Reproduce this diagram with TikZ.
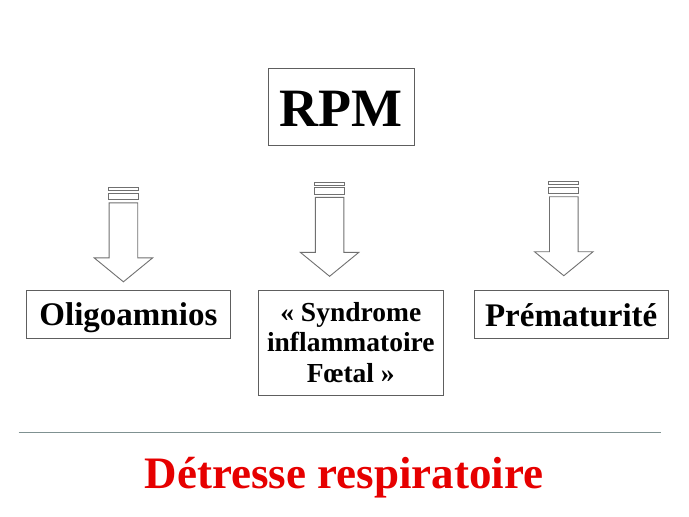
\documentclass[tikz,border=0pt]{standalone}
\usepackage{fontspec}
\setmainfont{Liberation Serif}
\definecolor{boxgray}{HTML}{5E5E5E}
\definecolor{arrgray}{HTML}{707070}
\definecolor{rulegray}{HTML}{7F9191}
\definecolor{alertred}{HTML}{E60000}

\newcommand\downblock[2]{% #1 = centre x, #2 = top of first bar
  \draw[blockarrow] ({#1-15},{#2}) rectangle ({#1+15},{#2+3});
  \draw[blockarrow] ({#1-15},{#2+5.5}) rectangle ({#1+15},{#2+12});
  \draw[blockarrow] ({#1-14.3},{#2+15}) -- ({#1-14.3},{#2+70}) -- ({#1-29.3},{#2+70})
     -- ({#1},{#2+94}) -- ({#1+29.3},{#2+70}) -- ({#1+14.3},{#2+70})
     -- ({#1+14.3},{#2+15}) -- cycle;
}

\begin{document}
\begin{tikzpicture}[x=1pt,y=-1pt,
  box/.style={draw=boxgray,line width=1pt,inner sep=0pt,align=center},
  midfont/.style={font=\bfseries\fontsize{33}{36}\selectfont},
  blockarrow/.style={draw=arrgray,line width=0.9pt,fill=white,line join=miter}]
\useasboundingbox (0,0) rectangle (689,517);

\node[box,minimum width=145.7pt,minimum height=76.7pt,text height=39pt,text depth=0pt,
      font=\bfseries\fontsize{54}{60}\selectfont] (rpm) at (341.2,106.7) {RPM};

\downblock{123.4}{187.8}
\downblock{329.6}{182.3}
\downblock{563.8}{181.7}

\node[box,midfont,minimum width=203.3pt,minimum height=48.3pt,text height=23.2pt,text depth=0pt]
  (oligo) at (128.4,314.2) {Oligoamnios};
\node[box,minimum width=185pt,minimum height=105pt,
      font=\bfseries\fontsize{27.5}{30.3}\selectfont]
  (sif) at (350.8,342.5) {«~Syndrome\\inflammatoire\\Fœtal~»};
\node[box,midfont,minimum width=194.3pt,minimum height=48.3pt,text height=23.6pt,text depth=0pt]
  (prema) at (571.2,314.2) {Prématurité};

\coordinate (ruleL) at (18.5,432.3);
\coordinate (ruleR) at (661,432.3);
\draw[rulegray,line width=1pt] (ruleL) -- (ruleR);

\node[anchor=base,text=alertred,inner sep=0pt,font=\bfseries\fontsize{45}{50}\selectfont]
  (detresse) at (343.9,488) {Détresse respiratoire};
\end{tikzpicture}
\end{document}
